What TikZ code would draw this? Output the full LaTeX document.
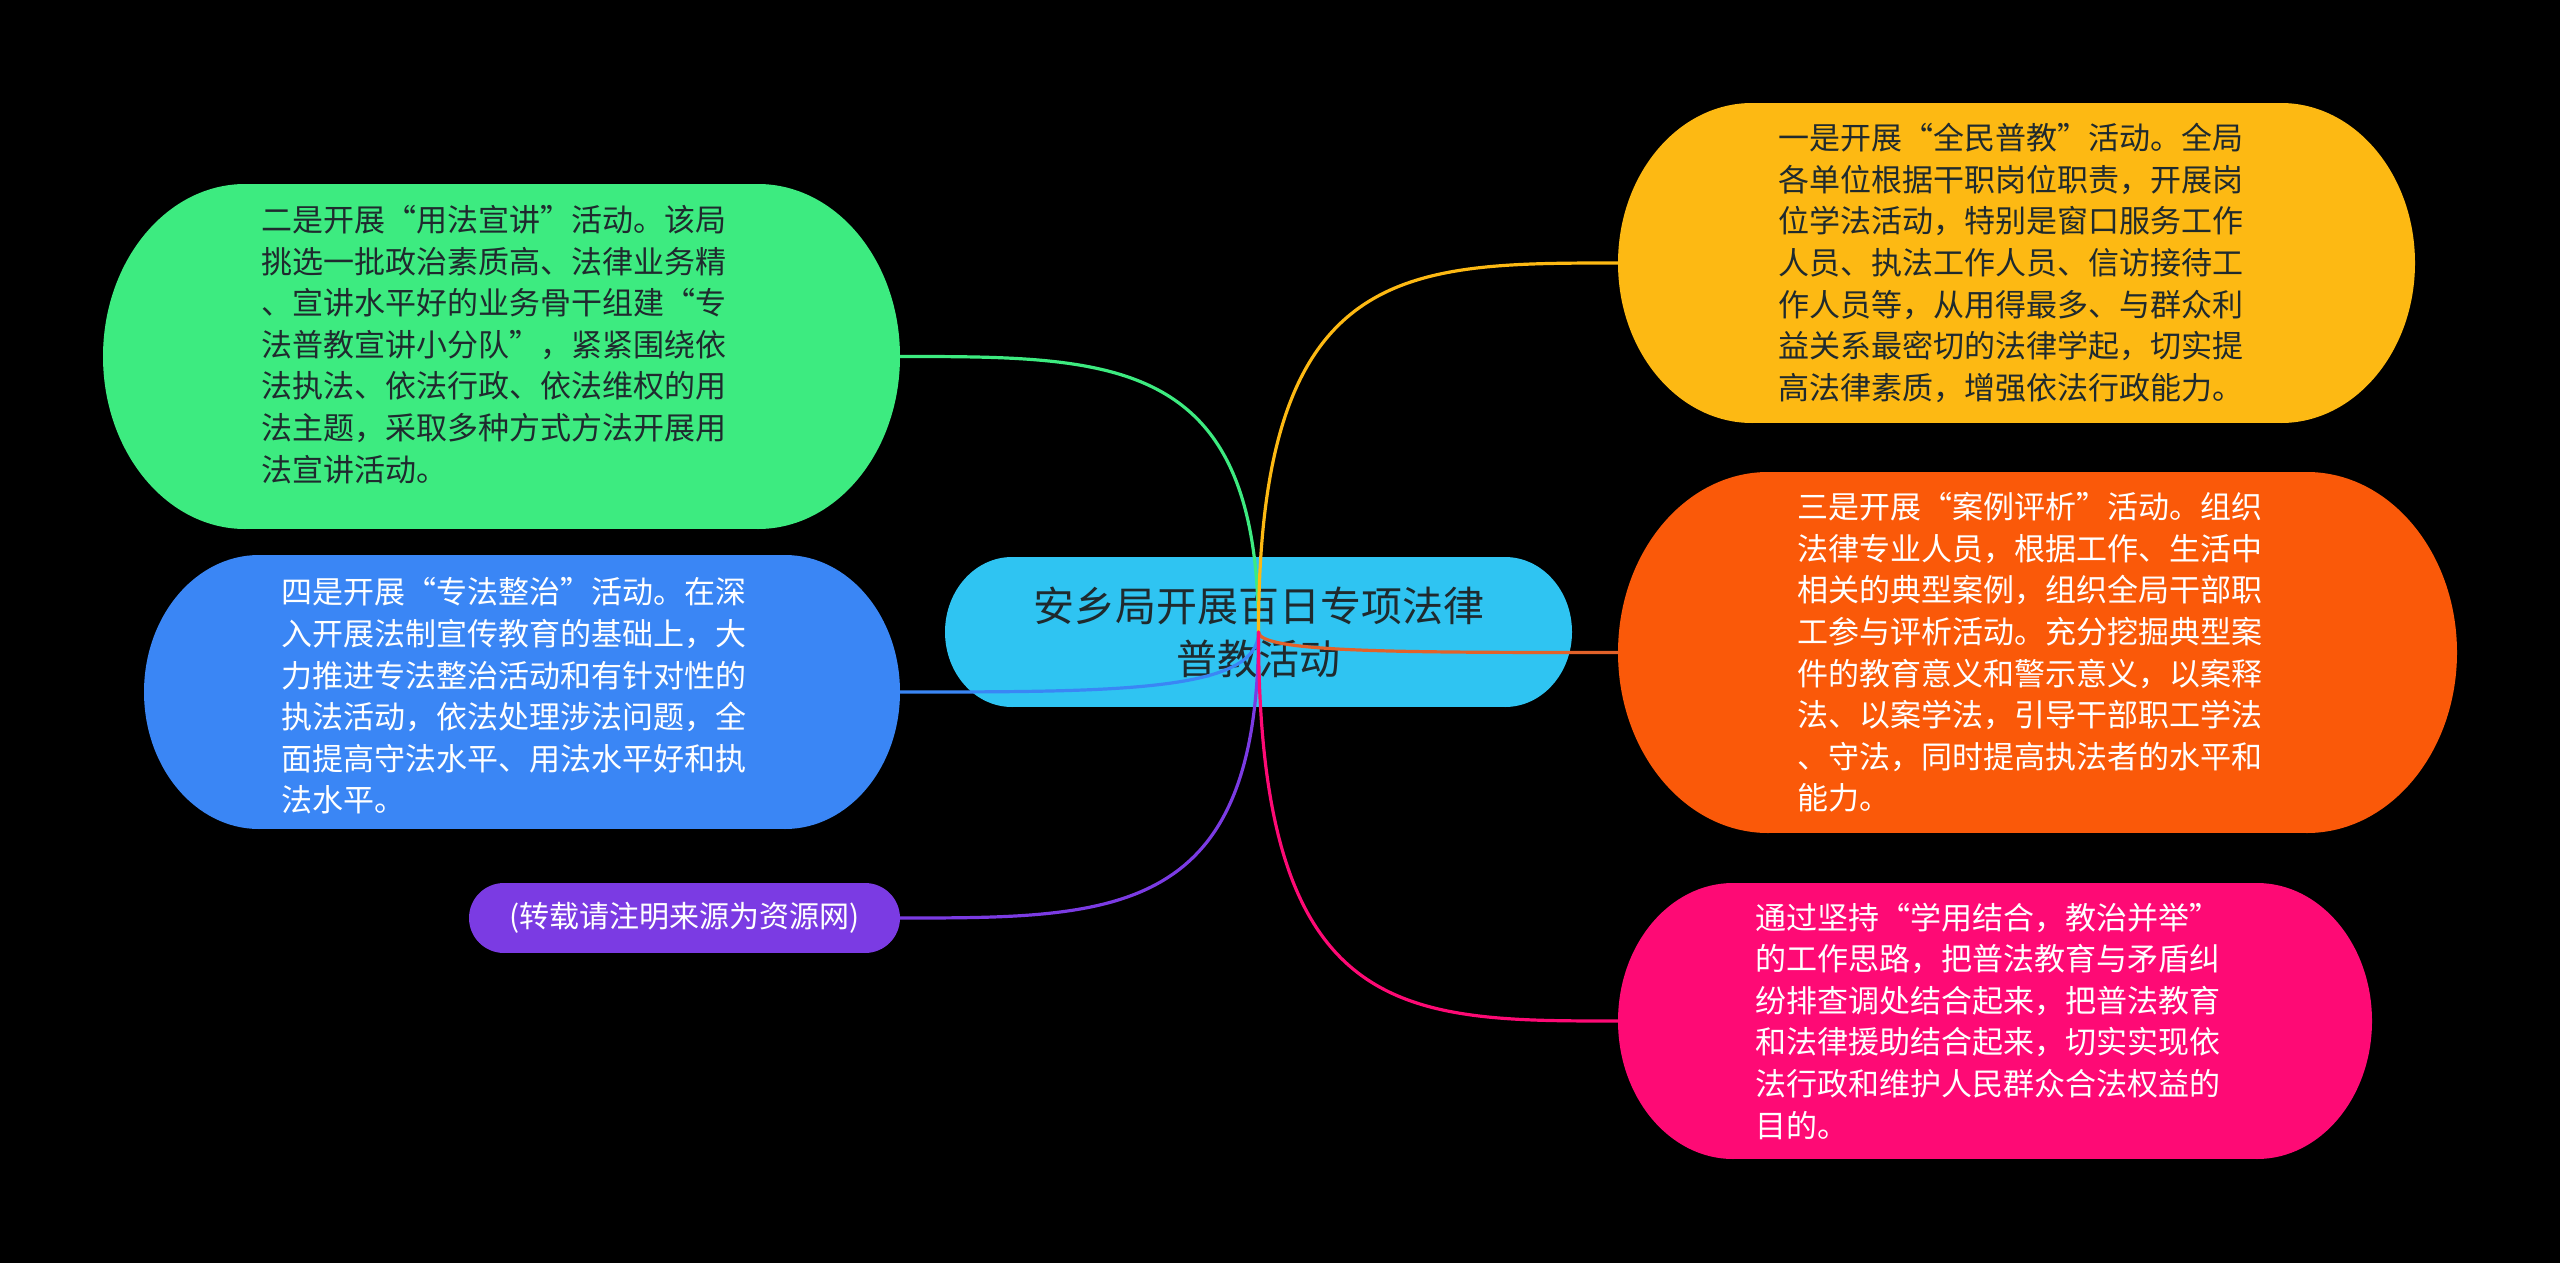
\documentclass[tikz,border=0pt]{standalone}
\usepackage{fontspec}
\usetikzlibrary{calc}
\setmainfont{Noto Sans CJK SC}
\definecolor{cC}{HTML}{2FC4F2}
\definecolor{cG}{HTML}{3DEB80}
\definecolor{cB}{HTML}{3A86F5}
\definecolor{cP}{HTML}{7B3BE3}
\definecolor{cY}{HTML}{FDB913}
\definecolor{cO}{HTML}{FA5909}
\definecolor{cOl}{HTML}{E2622A}
\definecolor{cK}{HTML}{FE0A75}
\definecolor{txtdark}{HTML}{1F2A2E}
\tikzset{
  blob/.style n args={4}{minimum width=#1pt, minimum height=#2pt, inner sep=0pt,
    fill=black, align=left,
    path picture={
      \fill[#4] ([xshift=#3pt]path picture bounding box.north west) rectangle ([xshift=-#3pt]path picture bounding box.south east);
      \fill[#4] ([xshift=#3pt]path picture bounding box.west) ellipse [x radius=#3pt, y radius=#2pt/2];
      \fill[#4] ([xshift=-#3pt]path picture bounding box.east) ellipse [x radius=#3pt, y radius=#2pt/2];
    }},
  bodytext/.style={font=\fontsize{31pt}{41.6pt}\selectfont, align=left, inner sep=0pt},
  conn/.style={line width=3.2pt, line cap=round}
}
\newcommand{\linkto}[3]{%
  \draw[conn, #1] (c.center) .. controls (c.center |- #2.#3) and ($(c.center |- #2.#3)!0.4!(#2.#3)$) .. (#2.#3);}
\begin{document}
\begin{tikzpicture}[x=1pt,y=-1pt]
\fill[black] (0,0) rectangle (2560,1263);
\useasboundingbox (0,0) rectangle (2560,1263);

\node[blob={627}{150}{67}{cC}, align=center, text=txtdark,
  font=\fontsize{41pt}{53pt}\selectfont] (c) at (1258.5,632)
  {安乡局开展百日专项法律\\普教活动};

\node[blob={797}{345}{142}{cG}] (g) at (501.5,356.5) {};
\node[bodytext, text=txtdark] (gt) at ([xshift=-8pt, yshift=12pt]g.center)
  {二是开展“用法宣讲”活动。该局\\
挑选一批政治素质高、法律业务精\\
、宣讲水平好的业务骨干组建“专\\
法普教宣讲小分队”，紧紧围绕依\\
法执法、依法行政、依法维权的用\\
法主题，采取多种方式方法开展用\\
法宣讲活动。};

\node[blob={756}{274}{115}{cB}] (b) at (522,692) {};
\node[bodytext, text=white] (bt) at ([xshift=-8pt, yshift=-4pt]b.center)
  {四是开展“专法整治”活动。在深\\
入开展法制宣传教育的基础上，大\\
力推进专法整治活动和有针对性的\\
执法活动，依法处理涉法问题，全\\
面提高守法水平、用法水平好和执\\
法水平。};

\node[blob={431}{70}{35}{cP}, text=white, font=\fontsize{30pt}{36pt}\selectfont] (p) at (684.5,918)
  {(转载请注明来源为资源网)};

\node[blob={797}{320}{134}{cY}] (y) at (2016.5,263) {};
\node[bodytext, text=txtdark] (yt) at ([xshift=-6pt]y.center)
  {一是开展“全民普教”活动。全局\\
各单位根据干职岗位职责，开展岗\\
位学法活动，特别是窗口服务工作\\
人员、执法工作人员、信访接待工\\
作人员等，从用得最多、与群众利\\
益关系最密切的法律学起，切实提\\
高法律素质，增强依法行政能力。};

\node[blob={839}{361}{150}{cO}] (o) at (2037.5,652.5) {};
\node[bodytext, text=white] (ot) at ([xshift=-8pt]o.center)
  {三是开展“案例评析”活动。组织\\
法律专业人员，根据工作、生活中\\
相关的典型案例，组织全局干部职\\
工参与评析活动。充分挖掘典型案\\
件的教育意义和警示意义，以案释\\
法、以案学法，引导干部职工学法\\
、守法，同时提高执法者的水平和\\
能力。};

\node[blob={754}{276}{115}{cK}] (k) at (1995,1021) {};
\node[bodytext, text=white] (kt) at ([xshift=-7pt]k.center)
  {通过坚持“学用结合，教治并举”\\
的工作思路，把普法教育与矛盾纠\\
纷排查调处结合起来，把普法教育\\
和法律援助结合起来，切实实现依\\
法行政和维护人民群众合法权益的\\
目的。};

\linkto{cG}{g}{east}
\linkto{cB}{b}{east}
\linkto{cP}{p}{east}
\linkto{cY}{y}{west}
\linkto{cOl}{o}{west}
\linkto{cK}{k}{west}
\end{tikzpicture}
\end{document}
